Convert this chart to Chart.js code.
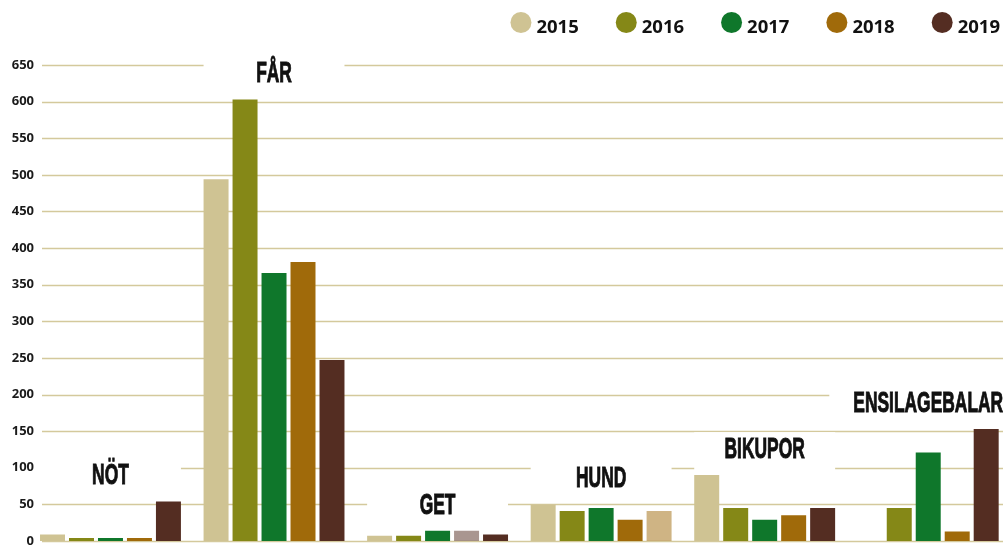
<!DOCTYPE html>
<html>
<head>
<meta charset="utf-8">
<script src="https://cdn.jsdelivr.net/npm/chart.js@4"></script>
<style>
  html, body { margin: 0; padding: 0; background: #fff; overflow: hidden; }
  #wrap { width: 1012px; height: 549px; position: relative; }
</style>
</head>
<body>
<div id="wrap"><canvas id="chart"></canvas></div>
<script>
// data
const categories = ['NÖT', 'FÅR', 'GET', 'HUND', 'BIKUPOR', 'ENSILAGEBALAR'];
const years = ['2015', '2016', '2017', '2018', '2019'];
const v2015 = [9, 494, 7, 50, 90, null];
const v2016 = [4, 603, 7, 41, 45, 45];
const v2017 = [4, 366, 14, 45, 29, 121];
const v2018 = [4, 381, 14, 29, 35, 13];
const v2019 = [54, 247, 9, 41, 45, 153];
const yTicks = [0, 50, 100, 150, 200, 250, 300, 350, 400, 450, 500, 550, 600, 650];

const colors = ['#cfc393', '#858817', '#0f772b', '#a06a0a', '#542d22'];
const gridColor = 'rgb(212,201,156)';

const series = [v2015, v2016, v2017, v2018, v2019];
const datasets = series.map(function (vals, i) {
    const bg = vals.map(function () { return colors[i]; });
    return { label: years[i], data: vals, backgroundColor: bg, borderWidth: 0 };
});
// the two faded bars in the original
datasets[3].backgroundColor[2] = 'rgba(84,45,34,0.5)';
datasets[4].backgroundColor[3] = 'rgba(160,106,10,0.5)';

// grid lines + white label boxes + group names
const groupLabels = {
    id: 'groupLabels',
    beforeDatasetsDraw(chart) {
        const ctx = chart.ctx;
        const y = chart.scales.y;
        const area = chart.chartArea;
        ctx.save();
        ctx.strokeStyle = gridColor;
        ctx.lineWidth = 1.6;
        yTicks.forEach(function (t) {
            const py = Math.round(y.getPixelForValue(t)) + 0.5;
            ctx.beginPath();
            ctx.moveTo(42, py);
            ctx.lineTo(area.right, py);
            ctx.stroke();
        });

        const first = chart.getDatasetMeta(0).data;
        const last = chart.getDatasetMeta(4).data;
        ctx.font = 'bold 30px "Liberation Sans Narrow", "Liberation Sans", sans-serif';
        categories.forEach(function (name, i) {
            let max = 0;
            series.forEach(function (s) { if (s[i] != null && s[i] > max) max = s[i]; });
            const base = y.getPixelForValue(max) - 17;
            const left = first[i].x - first[i].width / 2;
            const right = last[i].x + last[i].width / 2;
            const cx = (left + right) / 2;
            const sx = 0.58;
            const tw = ctx.measureText(name).width * sx;
            const bw = Math.max(right - left, tw + 48);
            ctx.fillStyle = '#fff';
            ctx.fillRect(cx - bw / 2, base - 26, bw, 38);
            ctx.save();
            ctx.translate(cx, base);
            ctx.scale(sx, 1);
            ctx.fillStyle = '#111';
            ctx.strokeStyle = '#111';
            ctx.lineWidth = 1;
            ctx.textAlign = 'center';
            ctx.textBaseline = 'alphabetic';
            ctx.fillText(name, 0, 0);
            ctx.strokeText(name, 0, 0);
            ctx.restore();
        });
        ctx.restore();
    }
};

// legend top right
const legendDots = {
    id: 'legendDots',
    afterDraw(chart) {
        const ctx = chart.ctx;
        ctx.save();
        ctx.font = 'bold 18.5px "Open Sans", sans-serif';
        ctx.textBaseline = 'alphabetic';
        let x = 1000;
        for (let i = chart.data.datasets.length - 1; i >= 0; i--) {
            const ds = chart.data.datasets[i];
            const tw = ctx.measureText(ds.label).width;
            ctx.fillStyle = '#111';
            ctx.fillText(ds.label, x - tw, 33);
            const cx = x - tw - 5 - 10.5;
            ctx.fillStyle = colors[i];
            ctx.beginPath();
            ctx.arc(cx, 22.5, 10.5, 0, Math.PI * 2);
            ctx.fill();
            x = cx - 10.5 - 37;
        }
        ctx.restore();
    }
};

new Chart(document.getElementById('chart'), {
    type: 'bar',
    data: { labels: categories, datasets: datasets },
    options: {
        responsive: true,
        maintainAspectRatio: false,
        animation: false,
        layout: { padding: { top: 65, bottom: 8, left: 0, right: 2 } },
        datasets: { bar: { categoryPercentage: 0.886, barPercentage: 0.862 } },
        plugins: {
            legend: { display: false },
            tooltip: { enabled: false }
        },
        scales: {
            x: { display: false },
            y: {
                min: 0,
                max: 650,
                afterFit: function (scale) { scale.width = 28.7; },
                afterBuildTicks: function (scale) {
                    scale.ticks = yTicks.map(function (v) { return { value: v }; });
                },
                grid: { display: false, drawTicks: false },
                border: { display: false },
                ticks: {
                    mirror: true,
                    crossAlign: 'far',
                    padding: -17,
                    color: '#1a1a1a',
                    font: { family: '"Open Sans", sans-serif', size: 13, weight: 'bold' }
                }
            }
        }
    },
    plugins: [groupLabels, legendDots]
});
</script>
</body>
</html>
